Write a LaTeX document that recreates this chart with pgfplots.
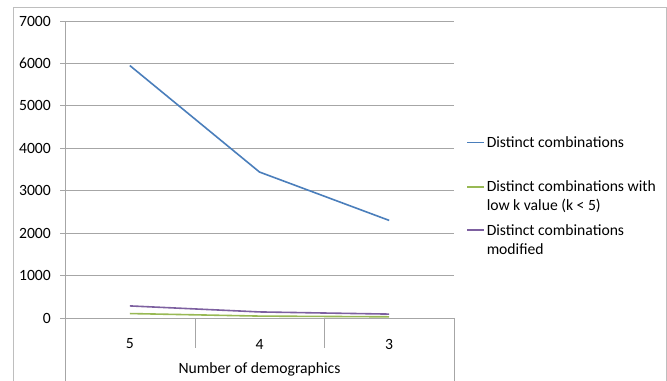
\documentclass[border=0pt]{standalone}
\usepackage{pgfplots}
\pgfplotsset{compat=1.18}
\usepackage{fontspec}
\setmainfont{Carlito}
\definecolor{cblue}{RGB}{74,126,187}
\definecolor{cgreen}{RGB}{152,185,84}
\definecolor{cpurple}{RGB}{125,96,160}
\definecolor{cgrid}{RGB}{166,166,166}
\definecolor{cborder}{RGB}{190,190,190}
\newcommand\mychartfont{\fontsize{15.7}{19}\selectfont}
\newcommand\mytick[1]{\mbox{\fontsize{15.7}{19}\selectfont #1}}
\newcommand\myentry[1]{\parbox[t]{176bp}{\raggedright\mychartfont #1}}
\begin{document}
\mychartfont
\begin{tikzpicture}
\useasboundingbox (0,0) rectangle (667bp,381bp);
\begin{axis}[
  at={(65bp,63bp)}, anchor=south west,
  scale only axis, width=389bp, height=297bp,
  xmin=0.5, xmax=3.5, ymin=0, ymax=7000,
  xtick={1,2,3}, xticklabels={\mytick{5},\mytick{4},\mytick{3}},
  ytick={0,1000,...,7000},
  yticklabels={\mytick{0},\mytick{1000},\mytick{2000},\mytick{3000},\mytick{4000},\mytick{5000},\mytick{6000},\mytick{7000}},
  ymajorgrids, grid style={cgrid, line width=0.8bp},
  axis x line*=bottom, axis y line*=left,
  axis line style={cgrid, line width=0.8bp, -},
  x axis line style={draw=none},
  xtick style={draw=none},
  ytick style={cgrid, line width=0.8bp},
  tick align=outside, major tick length=5bp,
  every tick label/.append style={font=\fontsize{15.7}{19}\selectfont},
  yticklabel style={anchor=east, inner sep=0pt, xshift=-9bp},
  xticklabel style={anchor=center, inner sep=0pt, yshift=-21bp},
  xlabel={Number of demographics},
  xlabel style={font=\mychartfont, anchor=center, at={(axis description cs:0.5,0)}, yshift=-51bp, inner sep=0pt},
  clip=false,
  legend cell align=left,
  legend style={draw=none, fill=none, at={(axis description cs:1.032,0.6125)}, anchor=north west,
    font=\mychartfont, inner sep=0pt, row sep=12bp, column sep=1.5bp,
    nodes={inner sep=0pt, text depth=, text height=}},
  legend image code/.code={\draw[#1] (0bp,10bp) -- (17bp,10bp);},
]
\addplot[cblue, line width=1.6bp] coordinates {(1,5950) (2,3440) (3,2300)};
\addlegendentry{\myentry{Distinct combinations\newline\rule[-3bp]{0pt}{3bp}}}
\addplot[cgreen, line width=1.6bp] coordinates {(1,105) (2,45) (3,28)};
\addlegendentry{\myentry{Distinct combinations with\newline low k value (k < 5)}}
\addplot[cpurple, line width=1.6bp] coordinates {(1,285) (2,143) (3,92)};
\addlegendentry{\myentry{Distinct combinations\newline modified}}
\end{axis}
\draw[cgrid, line width=0.8bp] (65bp,63bp) -- (65bp,0bp);
\draw[cgrid, line width=0.8bp] (65bp,63bp) -- (454bp,63bp);
\draw[cgrid, line width=0.8bp] (195bp,63bp) -- (195bp,33bp);
\draw[cgrid, line width=0.8bp] (324.5bp,63bp) -- (324.5bp,33bp);
\draw[cgrid, line width=0.8bp] (454bp,63bp) -- (454bp,0bp);
\draw[cborder, line width=0.8bp] (13.6bp,0bp) -- (13.6bp,373.7bp) -- (666bp,373.7bp) -- (666bp,0bp);
\end{tikzpicture}
\end{document}
